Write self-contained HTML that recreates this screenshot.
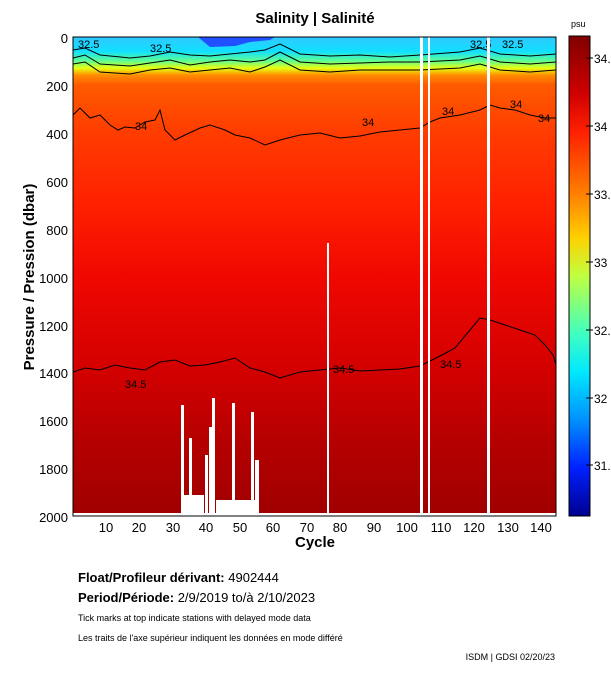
<!DOCTYPE html>
<html><head><meta charset="utf-8"><style>
body{margin:0;background:#fff;width:611px;height:675px;overflow:hidden;font-family:"Liberation Sans",sans-serif}
svg text{font-family:"Liberation Sans",sans-serif}
</style></head><body>
<svg width="611" height="675" xmlns="http://www.w3.org/2000/svg">
<defs>
<linearGradient id="f" x1="0" y1="37" x2="0" y2="516" gradientUnits="userSpaceOnUse">
<stop offset="0" stop-color="#30c8ff"/>
<stop offset="0.03" stop-color="#10e0ff"/>
<stop offset="0.05" stop-color="#60ff90"/>
<stop offset="0.065" stop-color="#e8ff10"/>
<stop offset="0.08" stop-color="#ff8c00"/>
<stop offset="0.1" stop-color="#ff5a00"/>
<stop offset="0.2" stop-color="#ff3c00"/>
<stop offset="0.35" stop-color="#ff2000"/>
<stop offset="0.5" stop-color="#f00800"/>
<stop offset="0.7" stop-color="#d20000"/>
<stop offset="0.85" stop-color="#b40000"/>
<stop offset="1" stop-color="#a00000"/>
</linearGradient>
<linearGradient id="cb" x1="0" y1="36" x2="0" y2="516" gradientUnits="userSpaceOnUse">
<stop offset="0" stop-color="#800000"/>
<stop offset="0.12" stop-color="#d00000"/>
<stop offset="0.2" stop-color="#ff2000"/>
<stop offset="0.33" stop-color="#ff8000"/>
<stop offset="0.42" stop-color="#ffd000"/>
<stop offset="0.5" stop-color="#c0ff40"/>
<stop offset="0.62" stop-color="#40ffc0"/>
<stop offset="0.7" stop-color="#00e8ff"/>
<stop offset="0.8" stop-color="#0090ff"/>
<stop offset="0.9" stop-color="#0020ff"/>
<stop offset="1" stop-color="#000090"/>
</linearGradient>
</defs>
<text x="315" y="23" font-size="15" font-weight="bold" text-anchor="middle">Salinity | Salinité</text>
<rect x="73" y="37" width="483" height="479" fill="url(#f)"/>
<path d="M198 37 L210 47 L235 46 L250 42 L270 40 L275 37 Z" fill="#2050ff"/>
<polyline fill="none" stroke="#000" stroke-width="1" points="73,50 85,48 100,55 130,58 150,56 170,52 190,55 210,56 230,54 250,52 265,50 280,44 300,54 330,56 360,55 390,57 420,55 460,52 480,48 500,54 530,56 556,54"/>
<polyline fill="none" stroke="#000" stroke-width="1" points="73,58 85,55 100,64 130,66 150,63 170,60 190,65 210,62 230,60 250,62 265,60 280,52 300,62 330,64 360,63 390,62 420,62 460,60 480,56 500,62 530,64 556,62"/>
<polyline fill="none" stroke="#000" stroke-width="1" points="73,64 85,62 100,72 130,74 150,70 170,68 190,72 210,70 230,68 250,72 265,67 280,60 300,70 330,72 360,70 390,70 420,70 460,68 480,64 500,70 530,72 556,70"/>
<polyline fill="none" stroke="#000" stroke-width="1" points="73,115 80,108 90,118 100,115 110,125 118,130 125,127 135,128 145,122 155,120 160,110 165,130 175,140 185,135 200,128 210,125 225,130 235,135 250,138 265,145 280,140 300,135 320,133 340,138 360,136 380,132 400,130 420,128 430,122 440,118 460,115 480,110 490,105 500,108 515,110 530,115 545,118 556,118"/>
<polyline fill="none" stroke="#000" stroke-width="1" points="73,372 85,368 100,370 115,365 130,368 145,370 160,362 175,360 190,366 205,365 220,362 235,358 250,368 265,372 280,378 300,372 320,370 340,368 360,371 380,370 400,369 420,366 428,362 440,356 455,348 470,330 480,318 490,320 505,325 520,330 535,335 545,345 553,355 556,365"/>
<g font-size="11" fill="#000">
<text x="78" y="48">32.5</text><text x="150" y="52">32.5</text><text x="470" y="48">32.5</text><text x="502" y="48">32.5</text>
<text x="135" y="130">34</text><text x="362" y="126">34</text><text x="442" y="115">34</text><text x="510" y="108">34</text><text x="538" y="122">34</text>
<text x="125" y="388">34.5</text><text x="333" y="373">34.5</text><text x="440" y="368">34.5</text>
</g>
<rect x="420" y="37" width="3" height="479" fill="#fff"/>
<rect x="428" y="37" width="2" height="479" fill="#fff"/>
<rect x="487" y="37" width="3" height="479" fill="#fff"/>
<rect x="327" y="243" width="2" height="273" fill="#fff"/>
<g fill="#fff">
<rect x="181" y="405" width="3" height="111"/><rect x="189" y="438" width="3" height="78"/>
<rect x="205" y="455" width="3" height="61"/><rect x="209" y="427" width="3" height="89"/><rect x="212" y="398" width="3" height="118"/>
<rect x="232" y="403" width="3" height="113"/><rect x="251" y="412" width="3" height="104"/><rect x="255" y="460" width="4" height="56"/>
<rect x="184" y="495" width="20" height="21"/><rect x="216" y="500" width="40" height="16"/>
<rect x="73" y="513" width="483" height="3"/>
</g>
<rect x="73" y="37" width="483" height="479" fill="none" stroke="#000"/>
<g font-size="13" text-anchor="end">
<text x="68" y="43">0</text><text x="68" y="91">200</text><text x="68" y="139">400</text><text x="68" y="187">600</text><text x="68" y="235">800</text><text x="68" y="283">1000</text><text x="68" y="331">1200</text><text x="68" y="378">1400</text><text x="68" y="426">1600</text><text x="68" y="474">1800</text><text x="68" y="522">2000</text>
</g>
<g font-size="13" text-anchor="middle">
<text x="106" y="532">10</text><text x="139" y="532">20</text><text x="173" y="532">30</text><text x="206" y="532">40</text><text x="240" y="532">50</text><text x="273" y="532">60</text><text x="307" y="532">70</text><text x="340" y="532">80</text><text x="374" y="532">90</text><text x="407" y="532">100</text><text x="441" y="532">110</text><text x="474" y="532">120</text><text x="508" y="532">130</text><text x="541" y="532">140</text>
</g>
<text x="315" y="547" font-size="15" font-weight="bold" text-anchor="middle">Cycle</text>
<text transform="translate(34,277) rotate(-90)" font-size="15" font-weight="bold" text-anchor="middle">Pressure / Pression (dbar)</text>
<text x="571" y="27" font-size="9">psu</text>
<rect x="569" y="36" width="21" height="480" fill="url(#cb)" stroke="#000"/>
<g stroke="#000"><line x1="586" y1="58" x2="593" y2="58"/><line x1="586" y1="126" x2="593" y2="126"/><line x1="586" y1="194" x2="593" y2="194"/><line x1="586" y1="262" x2="593" y2="262"/><line x1="586" y1="330" x2="593" y2="330"/><line x1="586" y1="398" x2="593" y2="398"/><line x1="586" y1="465" x2="593" y2="465"/></g>
<g font-size="12"><text x="594" y="63">34.5</text><text x="594" y="131">34</text><text x="594" y="199">33.5</text><text x="594" y="267">33</text><text x="594" y="335">32.5</text><text x="594" y="403">32</text><text x="594" y="470">31.5</text></g>
<text x="78" y="582" font-size="13" font-weight="bold">Float/Profileur dérivant: <tspan font-weight="normal">4902444</tspan></text>
<text x="78" y="602" font-size="13" font-weight="bold">Period/Période: <tspan font-weight="normal">2/9/2019  to/à  2/10/2023</tspan></text>
<text x="78" y="621" font-size="9">Tick marks at top indicate stations with delayed mode data</text>
<text x="78" y="641" font-size="9">Les traits de l'axe supérieur indiquent les données en mode différé</text>
<text x="555" y="660" font-size="9" text-anchor="end">ISDM | GDSI  02/20/23</text>
</svg>
</body></html>
